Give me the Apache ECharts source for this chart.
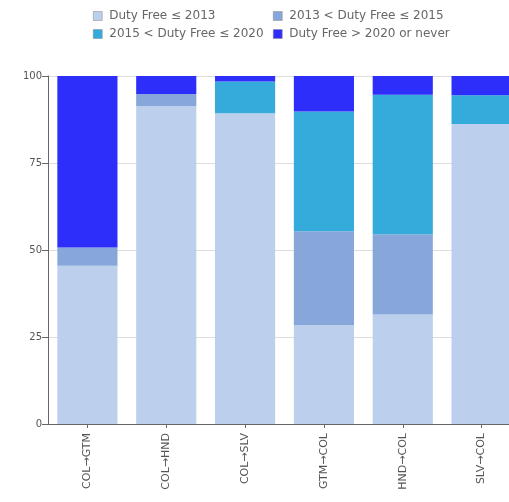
<!DOCTYPE html>
<html>
<head>
<meta charset="utf-8">
<script src="https://cdn.jsdelivr.net/npm/echarts@6/dist/echarts.min.js"></script>
<style>
  html, body { margin: 0; padding: 0; background: #fff; }
  #chart { width: 509px; height: 502px; }
</style>
</head>
<body>
<div id="chart"></div>
<script>
const categories = ['COL\u2192GTM', 'COL\u2192HND', 'COL\u2192SLV', 'GTM\u2192COL', 'HND\u2192COL', 'SLV\u2192COL']
const seriesNames = ['Duty Free \u2264 2013', '2013 < Duty Free \u2264 2015', '2015 < Duty Free \u2264 2020', 'Duty Free > 2020 or never']
const upTo2013 = [45.5, 91.4, 89.3, 28.4, 31.5, 86.2]
const upTo2015 = [5.2, 3.4, 0, 27.0, 23.0, 0]
const upTo2020 = [0, 0, 9.1, 34.4, 40.1, 8.3]
const after2020 = [49.3, 5.2, 1.6, 10.2, 5.4, 5.5]
const yTicks = [0, 25, 50, 75, 100]

const colors = ['#bccfec', '#87a6d9', '#35abdb', '#2e2efa']
const values = [upTo2013, upTo2015, upTo2020, after2020]

const chart = echarts.init(document.getElementById('chart'))

// one legend per entry so the two columns line up
const legendPos = [
  { left: 88, top: 5 },
  { left: 268, top: 5 },
  { left: 88, top: 23 },
  { left: 268, top: 23 }
]

chart.setOption({
  animation: false,
  backgroundColor: '#fff',
  legend: seriesNames.map((name, i) => ({
    left: legendPos[i].left,
    top: legendPos[i].top,
    data: [name],
    itemWidth: 9,
    itemHeight: 9,
    itemGap: 0,
    icon: 'rect',
    itemStyle: { borderColor: '#888', borderWidth: 0.5 },
    textStyle: { fontSize: 12, color: '#666', fontFamily: 'DejaVu Sans', padding: [0, 0, 0, 2] },
    selectedMode: false
  })),
  grid: {
    left: 48,
    right: -12,
    top: 76,
    bottom: 78,
    outerBoundsMode: 'none',
    containLabel: false
  },
  xAxis: {
    type: 'category',
    data: categories,
    axisLine: { lineStyle: { color: '#666' } },
    axisTick: { show: true, alignWithLabel: true, length: 4, lineStyle: { color: '#666' } },
    axisLabel: {
      rotate: 90,
      interval: 0,
      fontSize: 11,
      color: '#555',
      margin: 9,
      fontFamily: 'DejaVu Sans'
    }
  },
  yAxis: {
    type: 'value',
    min: 0,
    max: 100,
    interval: 25,
    axisLine: { show: true, lineStyle: { color: '#666' } },
    axisTick: { show: true, length: 6, lineStyle: { color: '#666' } },
    axisLabel: {
      fontSize: 10,
      color: '#555',
      margin: 6,
      fontFamily: 'DejaVu Sans',
      formatter(v) { return yTicks.includes(v) ? String(v) : '' }
    },
    splitLine: { show: true, lineStyle: { color: '#ddd' } }
  },
  series: seriesNames.map((name, i) => ({
    name: name,
    type: 'bar',
    stack: 'total',
    barCategoryGap: '23.7%',
    itemStyle: { color: colors[i] },
    emphasis: { disabled: true },
    data: values[i]
  }))
})
</script>
</body>
</html>
